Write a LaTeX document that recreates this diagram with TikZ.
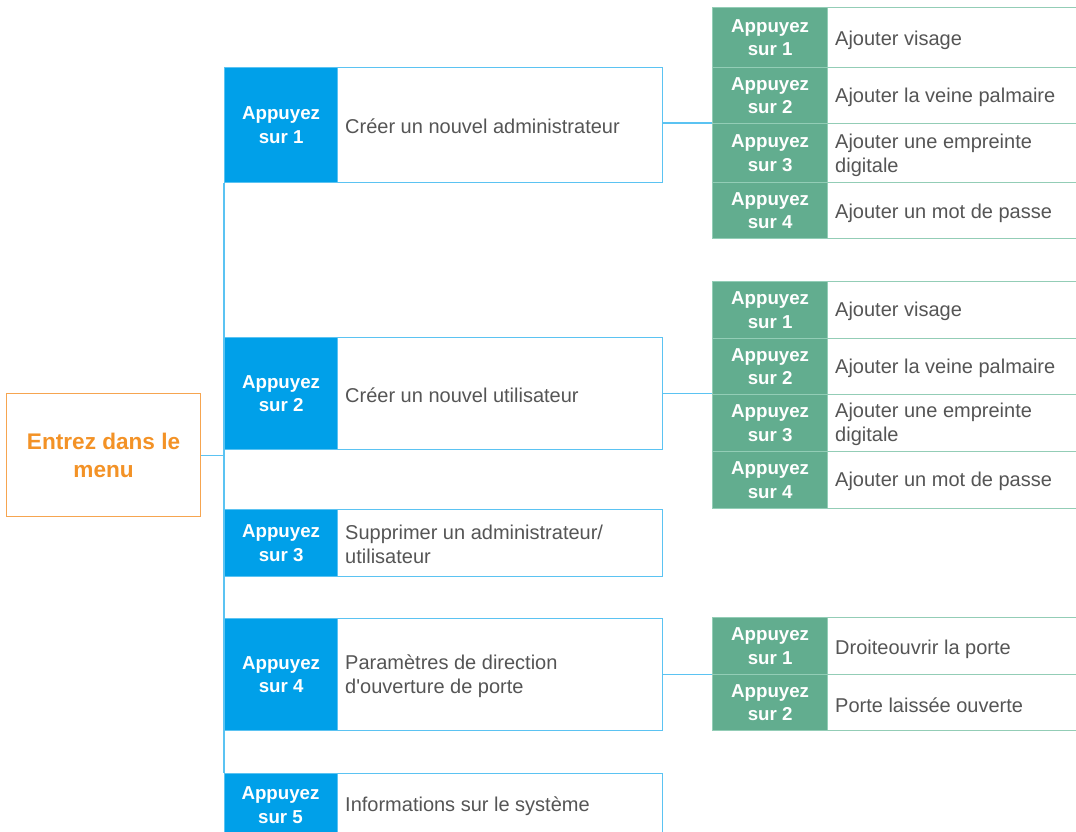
\documentclass[tikz,border=0pt]{standalone}
\usepackage{fontspec}
\setmainfont{Liberation Sans}[Ligatures=TeXOff]
\definecolor{cblue}{HTML}{00A0E9}
\definecolor{cblueline}{HTML}{5BC3F2}
\definecolor{cgreen}{HTML}{62AD8F}
\definecolor{cgreenline}{HTML}{93CDB6}
\definecolor{corange}{HTML}{F39226}
\definecolor{corangeline}{HTML}{F6A550}
\definecolor{ctext}{HTML}{555555}
\tikzset{
  bluelab/.style={anchor=north west, fill=cblue, draw=cblueline, line width=1.2pt, minimum width=113pt, inner sep=0pt, align=center, text=white, font=\fontsize{18.7}{23.5}\selectfont\bfseries},
  bluetxt/.style={anchor=north west, draw=cblueline, line width=1.2pt, minimum width=325pt, inner sep=0pt},
  greenlab/.style={anchor=north west, fill=cgreen, draw=cgreenline, line width=1.2pt, minimum width=115pt, inner sep=0pt, align=center, text=white, font=\fontsize{18.7}{23.5}\selectfont\bfseries},
  greentxt/.style={anchor=north west, draw=cgreenline, line width=1.2pt, minimum width=260pt, inner sep=0pt},
  itemtext/.style={anchor=west, align=left, inner sep=0pt, text=ctext, font=\fontsize{20}{24}\selectfont},
  conn/.style={draw=cblueline, line width=1.2pt},
}
\begin{document}
\begin{tikzpicture}[x=1pt,y=-1pt]
\clip (0,0) rectangle (1076,831);
\fill[white] (0,0) rectangle (1076,831);
% menu
\node[draw=corangeline, line width=1.2pt, minimum width=194pt, minimum height=123pt, anchor=north west, align=center, text=corange, font=\fontsize{22.6}{28}\selectfont\bfseries] (menu) at (6,393) {Entrez dans le\\menu};
% blue items
\node[bluetxt, minimum height=115pt] (t1) at (337,67) {};
\node[bluelab, minimum height=115pt] (l1) at (224,67) {Appuyez\\sur 1};
\node[itemtext] (x1) at (345,126) {Créer un nouvel administrateur};

\node[bluetxt, minimum height=112pt] (t2) at (337,337) {};
\node[bluelab, minimum height=112pt] (l2) at (224,337) {Appuyez\\sur 2};
\node[itemtext] (x2) at (345,395) {Créer un nouvel utilisateur};

\node[bluetxt, minimum height=67pt] (t3) at (337,509) {};
\node[bluelab, minimum height=67pt] (l3) at (224,509) {Appuyez\\sur 3};
\node[itemtext] (x3) at (345,544) {Supprimer un administrateur/\\utilisateur};

\node[bluetxt, minimum height=112pt] (t4) at (337,618) {};
\node[bluelab, minimum height=112pt] (l4) at (224,618) {Appuyez\\sur 4};
\node[itemtext] (x4) at (345,676) {Paramètres de direction\\d'ouverture de porte};

\node[bluetxt, minimum height=70pt] (t5) at (337,773) {};
\node[bluelab, minimum height=70pt] (l5) at (224,773) {};
\node[text=white, font=\fontsize{18.7}{23.5}\selectfont\bfseries, align=center, inner sep=0pt] (l5t) at (280.5,805) {Appuyez\\sur 5};
\node[itemtext] (x5) at (345,806) {Informations sur le système};

% green group 1
\node[greentxt, minimum height=60pt] (a1t) at (827,7) {};
\node[greenlab, minimum height=60pt] (a1) at (712,7) {Appuyez\\sur 1};
\node[itemtext] at (835,40) {Ajouter visage};
\node[greentxt, minimum height=56pt] (a2t) at (827,67) {};
\node[greenlab, minimum height=56pt] (a2) at (712,67) {Appuyez\\sur 2};
\node[itemtext] at (835,97) {Ajouter la veine palmaire};
\node[greentxt, minimum height=59pt] (a3t) at (827,123) {};
\node[greenlab, minimum height=59pt] (a3) at (712,123) {Appuyez\\sur 3};
\node[itemtext] at (835,155) {Ajouter une empreinte\\digitale};
\node[greentxt, minimum height=56pt] (a4t) at (827,182) {};
\node[greenlab, minimum height=56pt] (a4) at (712,182) {Appuyez\\sur 4};
\node[itemtext] at (835,213) {Ajouter un mot de passe};

% green group 2
\node[greentxt, minimum height=57pt] (b1t) at (827,281) {};
\node[greenlab, minimum height=57pt] (b1) at (712,281) {Appuyez\\sur 1};
\node[itemtext] at (835,311) {Ajouter visage};
\node[greentxt, minimum height=56pt] (b2t) at (827,338) {};
\node[greenlab, minimum height=56pt] (b2) at (712,338) {Appuyez\\sur 2};
\node[itemtext] at (835,368) {Ajouter la veine palmaire};
\node[greentxt, minimum height=57pt] (b3t) at (827,394) {};
\node[greenlab, minimum height=57pt] (b3) at (712,394) {Appuyez\\sur 3};
\node[itemtext] at (835,424) {Ajouter une empreinte\\digitale};
\node[greentxt, minimum height=57pt] (b4t) at (827,451) {};
\node[greenlab, minimum height=57pt] (b4) at (712,451) {Appuyez\\sur 4};
\node[itemtext] at (835,481) {Ajouter un mot de passe};

% green group 3
\node[greentxt, minimum height=57pt] (c1t) at (827,617) {};
\node[greenlab, minimum height=57pt] (c1) at (712,617) {Appuyez\\sur 1};
\node[itemtext] at (835,649) {Droiteouvrir la porte};
\node[greentxt, minimum height=56pt] (c2t) at (827,674) {};
\node[greenlab, minimum height=56pt] (c2) at (712,674) {Appuyez\\sur 2};
\node[itemtext] at (835,705) {Porte laissée ouverte};

% connectors
\draw[conn] (l1.south west) -- (l5.north west);
\draw[conn] (menu.east) -- (menu.east -| l1.west);
\draw[conn] (t1.east |- a3.north west) -- (a3.north west);
\draw[conn] (t2.east) -- (t2.east -| b2.west);
\draw[conn] (t4.east) -- (t4.east -| c2.west);
\end{tikzpicture}
\end{document}
